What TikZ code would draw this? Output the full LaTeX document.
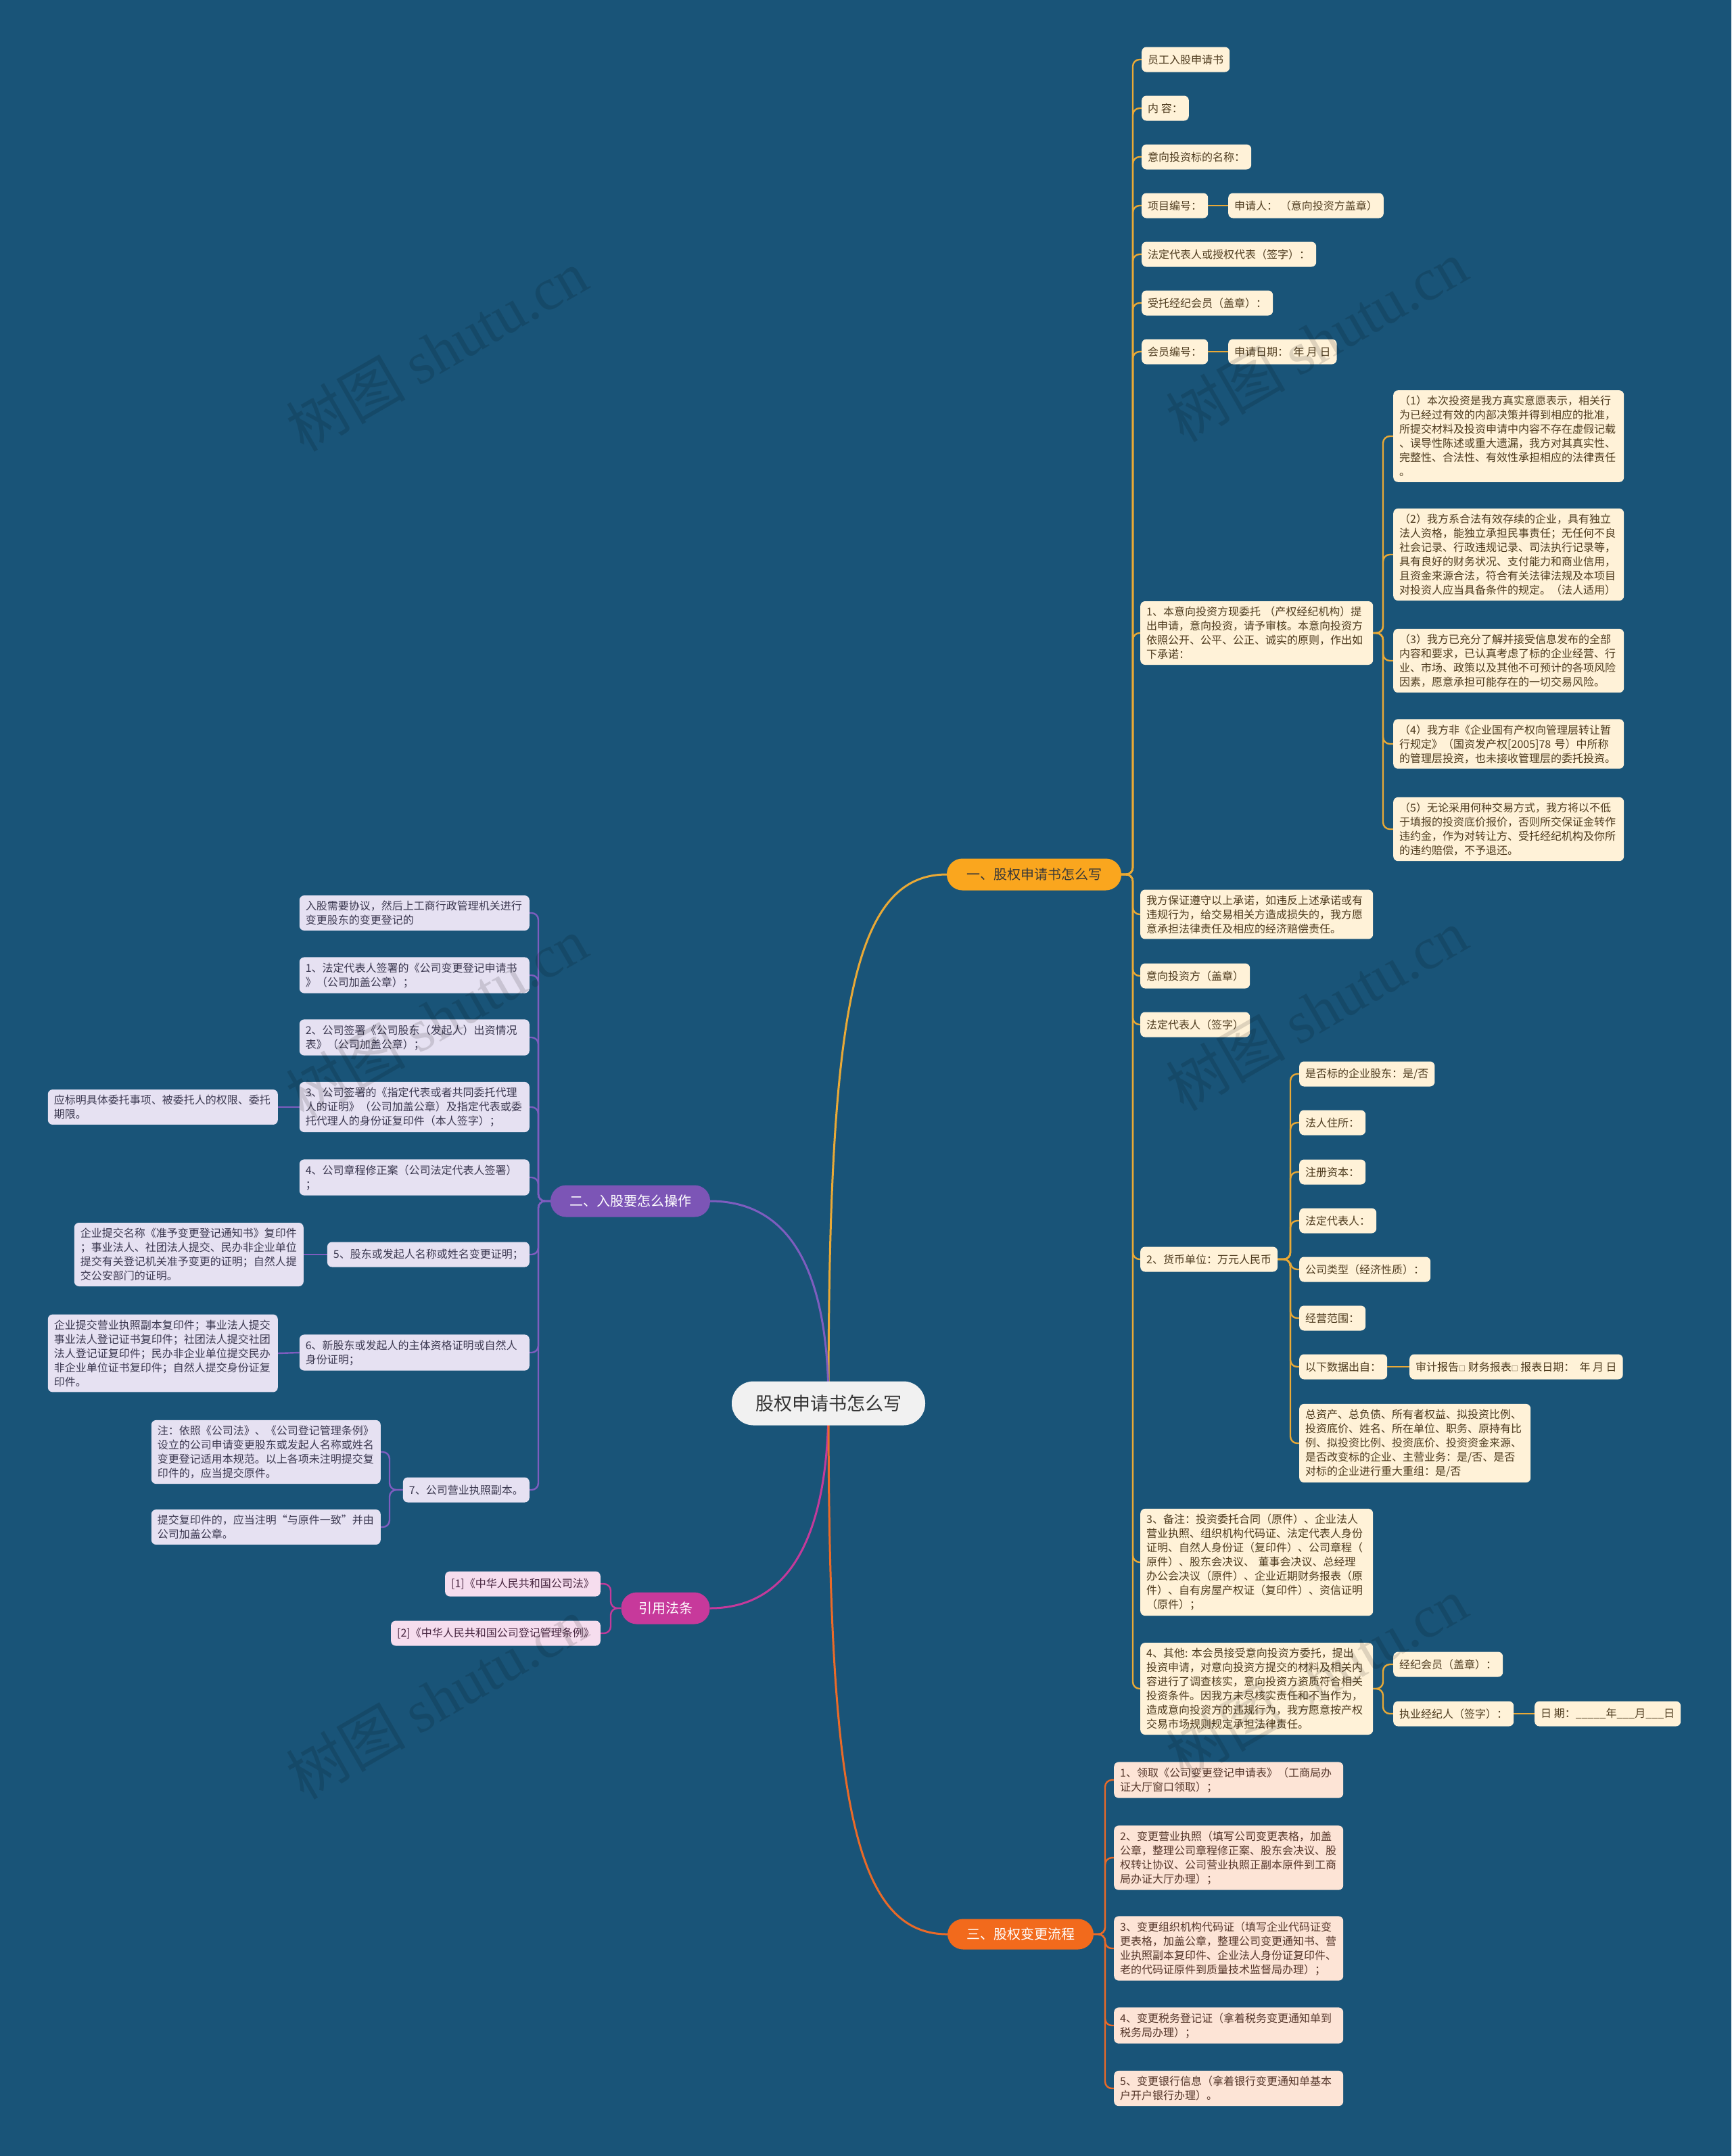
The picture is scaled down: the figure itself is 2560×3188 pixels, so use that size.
\documentclass[tikz,border=0pt]{standalone}
\usepackage{fontspec}
\setmainfont{Noto Sans CJK SC}
\newfontfamily\wmserif{Liberation Serif}
\definecolor{bgc}{HTML}{195478}
\definecolor{lineA}{HTML}{E9A936}
\definecolor{lineB}{HTML}{7E5DBF}
\definecolor{lineC}{HTML}{C43A9B}
\definecolor{lineD}{HTML}{EA6A28}
\definecolor{brA}{HTML}{FAA61E}
\definecolor{brB}{HTML}{7C55B6}
\definecolor{brC}{HTML}{C7399B}
\definecolor{brD}{HTML}{F26A1C}
\definecolor{fillA}{HTML}{FFF2D8}
\definecolor{fillB}{HTML}{E6E1F2}
\definecolor{fillC}{HTML}{F6DDEE}
\definecolor{fillD}{HTML}{FDE4D6}
\definecolor{txtA}{HTML}{4E3B1E}
\definecolor{txtB}{HTML}{3B3850}
\definecolor{txtC}{HTML}{4A2842}
\definecolor{txtD}{HTML}{55362A}
\definecolor{rootfill}{HTML}{F1F1F1}
\pgfdeclarelayer{bglayer}
\pgfdeclarelayer{lines}
\pgfdeclarelayer{wm}
\pgfsetlayers{bglayer,lines,main,wm}
\begin{document}
\begin{tikzpicture}[x=1pt,y=-1pt,
  leaf/.style={rounded corners=7pt, inner xsep=9pt, inner ysep=8pt, minimum height=37pt, align=left, font=\fontsize{16}{21}\selectfont},
  leafA/.style={leaf, fill=fillA, text=txtA},
  leafB/.style={leaf, fill=fillB, text=txtB},
  leafC/.style={leaf, fill=fillC, text=txtC},
  leafD/.style={leaf, fill=fillD, text=txtD},
  branchbox/.style={rounded corners=23pt, inner sep=0pt, minimum height=47pt, font=\fontsize{20}{24}\selectfont},
  rootbox/.style={rounded corners=32pt, inner sep=0pt, minimum width=286pt, minimum height=65pt, fill=rootfill, text=black!80, font=\fontsize{27}{30}\selectfont},
  cA/.style={draw=lineA, line width=2.4pt, rounded corners=10pt},
  cB/.style={draw=lineB, line width=2.4pt, rounded corners=10pt},
  cC/.style={draw=lineC, line width=2.4pt, rounded corners=10pt},
  cD/.style={draw=lineD, line width=2.4pt, rounded corners=10pt},
  mainline/.style={line width=3pt},
  wmark/.style={rotate=30, text=black, text opacity=0.13, font=\fontsize{88}{90}\selectfont}
]
\useasboundingbox (0,0) rectangle (2560,3188);
\begin{pgfonlayer}{bglayer}
\fill[bgc] (0,0) rectangle (2560,3188);
\end{pgfonlayer}

% root and branches
\node[rootbox] (root) at (1225,2075) {股权申请书怎么写};
\node[branchbox, fill=brA, text=black!78, minimum width=258pt] (b1) at (1529,1293) {一、股权申请书怎么写};
\node[branchbox, fill=brB, text=white, minimum width=236pt] (b2) at (932,1776) {二、入股要怎么操作};
\node[branchbox, fill=brC, text=white, minimum width=131pt] (b4) at (984,2378) {引用法条};
\node[branchbox, fill=brD, text=white, minimum width=216pt, minimum height=45pt] (b3) at (1509,2860) {三、股权变更流程};

% branch 1 leaves
\node[leafA, anchor=west] (a1) at (1688,88) {员工入股申请书};
\node[leafA, anchor=west] (a2) at (1688,160) {内~容：};
\node[leafA, anchor=west] (a3) at (1688,232) {意向投资标的名称：};
\node[leafA, anchor=west] (a4) at (1688,304) {项目编号：};
\node[leafA, anchor=west] (a4b) at (1816,304) {申请人：~（意向投资方盖章）};
\node[leafA, anchor=west] (a5) at (1688,376) {法定代表人或授权代表（签字）：};
\node[leafA, anchor=west] (a6) at (1688,448) {受托经纪会员（盖章）：};
\node[leafA, anchor=west] (a7) at (1688,520) {会员编号：};
\node[leafA, anchor=west] (a7b) at (1816,520) {申请日期：~~年~月~日};
\node[leafA, anchor=west, text width=326pt] (a8) at (1686,936) {1、本意向投资方现委托~（产权经纪机构）提\\出申请，意向投资，请予审核。本意向投资方\\依照公开、公平、公正、诚实的原则，作出如\\下承诺：};
\node[leafA, anchor=west, text width=326pt] (a9) at (1686,1352) {我方保证遵守以上承诺，如违反上述承诺或有\\违规行为，给交易相关方造成损失的，我方愿\\意承担法律责任及相应的经济赔偿责任。};
\node[leafA, anchor=west] (a10) at (1686,1443) {意向投资方（盖章）};
\node[leafA, anchor=west] (a11) at (1686,1515) {法定代表人（签字）};
\node[leafA, anchor=west] (a12) at (1686,1862) {2、货币单位：万元人民币};
\node[leafA, anchor=west, text width=326pt] (a13) at (1686,2310) {3、备注：投资委托合同（原件）、企业法人\\营业执照、组织机构代码证、法定代表人身份\\证明、自然人身份证（复印件）、公司章程（\\原件）、股东会决议、~董事会决议、总经理\\办公会决议（原件）、企业近期财务报表（原\\件）、自有房屋产权证（复印件）、资信证明\\（原件）；};
\node[leafA, anchor=west, text width=326pt] (a14) at (1686,2497) {4、其他:~本会员接受意向投资方委托，提出\\投资申请，对意向投资方提交的材料及相关内\\容进行了调查核实，意向投资方资质符合相关\\投资条件。因我方未尽核实责任和不当作为，\\造成意向投资方的违规行为，我方愿意按产权\\交易市场规则规定承担法律责任。};

% commitments
\node[leafA, anchor=west, text width=323pt] (p1) at (2060,645) {（1）本次投资是我方真实意愿表示，相关行\\为已经过有效的内部决策并得到相应的批准，\\所提交材料及投资申请中内容不存在虚假记载\\、误导性陈述或重大遗漏，我方对其真实性、\\完整性、合法性、有效性承担相应的法律责任\\。};
\node[leafA, anchor=west, text width=323pt] (p2) at (2060,820) {（2）我方系合法有效存续的企业，具有独立\\法人资格，能独立承担民事责任；无任何不良\\社会记录、行政违规记录、司法执行记录等，\\具有良好的财务状况、支付能力和商业信用，\\且资金来源合法，符合有关法律法规及本项目\\对投资人应当具备条件的规定。（法人适用）};
\node[leafA, anchor=west, text width=323pt] (p3) at (2060,977) {（3）我方已充分了解并接受信息发布的全部\\内容和要求，已认真考虑了标的企业经营、行\\业、市场、政策以及其他不可预计的各项风险\\因素，愿意承担可能存在的一切交易风险。};
\node[leafA, anchor=west, text width=323pt] (p4) at (2060,1100) {（4）我方非《企业国有产权向管理层转让暂\\行规定》（国资发产权[2005]78~号）中所称\\的管理层投资，也未接收管理层的委托投资。};
\node[leafA, anchor=west, text width=323pt] (p5) at (2060,1226) {（5）无论采用何种交易方式，我方将以不低\\于填报的投资底价报价，否则所交保证金转作\\违约金，作为对转让方、受托经纪机构及你所\\的违约赔偿，不予退还。};

% money children
\node[leafA, anchor=west] (m1) at (1921,1588) {是否标的企业股东：是/否};
\node[leafA, anchor=west] (m2) at (1921,1660) {法人住所：};
\node[leafA, anchor=west] (m3) at (1921,1733) {注册资本：};
\node[leafA, anchor=west] (m4) at (1921,1805) {法定代表人：};
\node[leafA, anchor=west] (m5) at (1921,1877) {公司类型（经济性质）：};
\node[leafA, anchor=west] (m6) at (1921,1949) {经营范围：};
\node[leafA, anchor=west] (m7) at (1921,2021) {以下数据出自：};
\node[leafA, anchor=west] (m7b) at (2084,2021) {审计报告{\fontsize{10}{10}\selectfont □}~财务报表{\fontsize{10}{10}\selectfont □}~报表日期：~~年~月~日};
\node[leafA, anchor=west, text width=324pt] (m8) at (1921,2134) {总资产、总负债、所有者权益、拟投资比例、\\投资底价、姓名、所在单位、职务、原持有比\\例、拟投资比例、投资底价、投资资金来源、\\是否改变标的企业、主营业务：是/否、是否\\对标的企业进行重大重组：是/否};

% item 4 children
\node[leafA, anchor=west] (o1) at (2060,2461) {经纪会员（盖章）：};
\node[leafA, anchor=west] (o2) at (2060,2534) {执业经纪人（签字）：};
\node[leafA, anchor=west] (o2b) at (2269,2534) {日~期：\_\_\_\_\_年\_\_\_月\_\_\_日};

% branch 3 leaves
\node[leafD, anchor=west, text width=321pt] (d1) at (1647,2632) {1、领取《公司变更登记申请表》（工商局办\\证大厅窗口领取）；};
\node[leafD, anchor=west, text width=321pt] (d2) at (1647,2747) {2、变更营业执照（填写公司变更表格，加盖\\公章，整理公司章程修正案、股东会决议、股\\权转让协议、公司营业执照正副本原件到工商\\局办证大厅办理）；};
\node[leafD, anchor=west, text width=321pt] (d3) at (1647,2881) {3、变更组织机构代码证（填写企业代码证变\\更表格，加盖公章，整理公司变更通知书、营\\业执照副本复印件、企业法人身份证复印件、\\老的代码证原件到质量技术监督局办理）；};
\node[leafD, anchor=west, text width=321pt] (d4) at (1647,2995) {4、变更税务登记证（拿着税务变更通知单到\\税务局办理）；};
\node[leafD, anchor=west, text width=321pt] (d5) at (1647,3088) {5、变更银行信息（拿着银行变更通知单基本\\户开户银行办理）。};

% branch 2 leaves
\node[leafB, anchor=east, text width=322pt] (e0) at (783,1350) {入股需要协议，然后上工商行政管理机关进行\\变更股东的变更登记的};
\node[leafB, anchor=east, text width=322pt] (e1) at (783,1442) {1、法定代表人签署的《公司变更登记申请书\\》（公司加盖公章）；};
\node[leafB, anchor=east, text width=322pt] (e2) at (783,1534) {2、公司签署《公司股东（发起人）出资情况\\表》（公司加盖公章）；};
\node[leafB, anchor=east, text width=322pt] (e3) at (783,1637) {3、公司签署的《指定代表或者共同委托代理\\人的证明》（公司加盖公章）及指定代表或委\\托代理人的身份证复印件（本人签字）；};
\node[leafB, anchor=east, text width=322pt] (e4) at (783,1741) {4、公司章程修正案（公司法定代表人签署）\\；};
\node[leafB, anchor=east] (e5) at (783,1855) {5、股东或发起人名称或姓名变更证明；};
\node[leafB, anchor=east, text width=322pt] (e6) at (783,2000) {6、新股东或发起人的主体资格证明或自然人\\身份证明；};
\node[leafB, anchor=east] (e7) at (783,2203) {7、公司营业执照副本。};
\node[leafB, anchor=east, text width=322pt] (f3) at (411,1637) {应标明具体委托事项、被委托人的权限、委托\\期限。};
\node[leafB, anchor=east, text width=321pt] (f5) at (449,1855) {企业提交名称《准予变更登记通知书》复印件\\；事业法人、社团法人提交、民办非企业单位\\提交有关登记机关准予变更的证明；自然人提\\交公安部门的证明。};
\node[leafB, anchor=east, text width=322pt] (f6) at (411,2001) {企业提交营业执照副本复印件；事业法人提交\\事业法人登记证书复印件；社团法人提交社团\\法人登记证复印件；民办非企业单位提交民办\\非企业单位证书复印件；自然人提交身份证复\\印件。};
\node[leafB, anchor=east, text width=321pt] (f7a) at (563,2147) {注：依照《公司法》、《公司登记管理条例》\\设立的公司申请变更股东或发起人名称或姓名\\变更登记适用本规范。以上各项未注明提交复\\印件的，应当提交原件。};
\node[leafB, anchor=east, text width=321pt] (f7b) at (563,2258) {提交复印件的，应当注明“与原件一致”并由\\公司加盖公章。};

% citations
\node[leafC, anchor=east] (g1) at (888,2342) {[1]《中华人民共和国公司法》};
\node[leafC, anchor=east] (g2) at (888,2415) {[2]《中华人民共和国公司登记管理条例》};

\begin{pgfonlayer}{lines}
% main curves
\draw[lineA, mainline] (1225,2075) .. controls (1225,1500) and (1260,1293) .. (b1.west);
\draw[lineB, mainline] (1225,2075) .. controls (1225,1850) and (1150,1776) .. (b2.east);
\draw[lineC, mainline] (1225,2075) .. controls (1225,2300) and (1150,2378) .. (b4.east);
\draw[lineD, mainline] (1225,2075) .. controls (1225,2650) and (1260,2860) .. (b3.west);
% branch 1
\foreach \n in {a1,a2,a3,a4,a5,a6,a7,a8,a9,a10,a11,a12,a13,a14}
  \draw[cA] (b1.east) -- (1675,1293) |- (\n.west);
\draw[cA] (a4.east) -- (a4b.west);
\draw[cA] (a7.east) -- (a7b.west);
\foreach \n in {p1,p2,p3,p4,p5}
  \draw[cA] (a8.east) -- (2045,936) |- (\n.west);
\foreach \n in {m1,m2,m3,m4,m5,m6,m7,m8}
  \draw[cA] (a12.east) -- (1908,1862) |- (\n.west);
\draw[cA] (m7.east) -- (m7b.west);
\foreach \n in {o1,o2}
  \draw[cA] (a14.east) -- (2045,2497) |- (\n.west);
\draw[cA] (o2.east) -- (o2b.west);
% branch 3
\foreach \n in {d1,d2,d3,d4,d5}
  \draw[cD] (b3.east) -- (1634,2860) |- (\n.west);
% branch 2
\foreach \n in {e0,e1,e2,e3,e4,e5,e6,e7}
  \draw[cB] (b2.west) -- (796,1776) |- (\n.east);
\draw[cB] (e3.west) -- (f3.east);
\draw[cB] (e5.west) -- (f5.east);
\draw[cB] (e6.west) -- (f6.east);
\foreach \n in {f7a,f7b}
  \draw[cB] (e7.west) -- (576,2203) |- (\n.east);
% citations
\foreach \n in {g1,g2}
  \draw[cC] (b4.west) -- (903,2378) |- (\n.east);
\end{pgfonlayer}

\begin{pgfonlayer}{wm}
\node[wmark] (w1) at (646,518) {树图~{\wmserif shutu.cn}};
\node[wmark] (w2) at (1947,504) {树图~{\wmserif shutu.cn}};
\node[wmark] (w3) at (646,1505) {树图~{\wmserif shutu.cn}};
\node[wmark] (w4) at (1947,1493) {树图~{\wmserif shutu.cn}};
\node[wmark] (w5) at (646,2511) {树图~{\wmserif shutu.cn}};
\node[wmark] (w6) at (1947,2481) {树图~{\wmserif shutu.cn}};
\end{pgfonlayer}
\end{tikzpicture}
\end{document}
